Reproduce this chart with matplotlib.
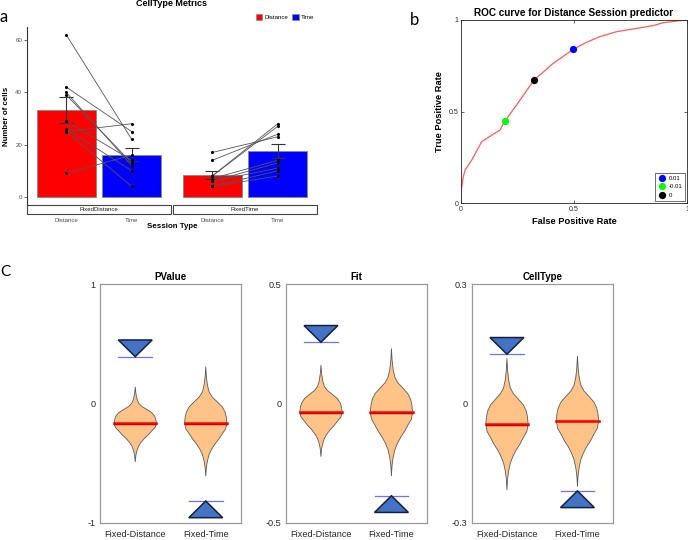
import numpy as np
import matplotlib
matplotlib.use("Agg")
import matplotlib.pyplot as plt
from matplotlib.patches import Rectangle, Polygon, Patch

REG = ['Liberation Sans', 'DejaVu Sans']
plt.rcParams['font.family'] = REG

# ---------------- data: panel a (cell counts) ----------------
cell_types = ['Distance', 'Time']
sessions = ['FixedDistance', 'FixedTime']
fd_mean = [33.1, 16.2]
fd_sem = [5.0, 2.65]
ft_mean = [8.4, 17.6]
ft_sem = [1.5, 2.7]
fd_dist = [62, 42, 40, 39, 29, 26, 25, 25, 9]
fd_time = [22, 25, 12, 13, 14, 10, 28, 4, 16]
ft_dist = [17, 14, 8, 8, 7, 6, 6, 4, 4]
ft_time = [23, 24, 28, 27, 14, 13, 11, 8, 10]

# ---------------- data: panel b (ROC) ----------------
fpr = [0, 0, 0.010, 0.018, 0.047, 0.091, 0.135, 0.172, 0.194, 0.261, 0.323,
       0.408, 0.496, 0.555, 0.614, 0.688, 0.761, 0.850, 0.894, 0.968, 1]
tpr = [0, 0.060, 0.142, 0.179, 0.234, 0.334, 0.370, 0.398, 0.447, 0.562, 0.672,
       0.763, 0.839, 0.878, 0.909, 0.936, 0.951, 0.969, 0.985, 0.996, 1]
thr_labels = ['0.01', '-0.01', '0']
thr_fpr = [0.496, 0.194, 0.323]
thr_tpr = [0.839, 0.447, 0.672]
thr_colors = ['#0000FF', '#00FF00', '#000000']

# ---------------- data: panel c (shuffle distributions) ----------------
groups = ['Fixed-Distance', 'Fixed-Time']
metric_titles = ['PValue', 'Fit', 'CellType']
metric_lims = [1, 0.5, 0.3]
pv_median = [-0.165, -0.165]
pv_top = [0.14, 0.31]
pv_bottom = [-0.49, -0.61]
pv_obs = [0.393, -0.818]
fit_median = [-0.037, -0.037]
fit_top = [0.161, 0.231]
fit_bottom = [-0.223, -0.304]
fit_obs = [0.257, -0.387]
ct_median = [-0.052, -0.044]
ct_top = [0.114, 0.12]
ct_bottom = [-0.218, -0.209]
ct_obs = [0.124, -0.220]
# violin outline: position (-1 top tip, 0 median, 1 bottom tip) and relative width
prof_pos = [-1, -0.82, -0.67, -0.55, -0.46, -0.375, -0.29, -0.2, -0.11, 0,
            0.11, 0.2, 0.3, 0.39, 0.49, 0.59, 0.71, 0.83, 1]
prof_w = [0, 0.03, 0.08, 0.16, 0.31, 0.55, 0.78, 0.91, 0.97, 1,
          0.94, 0.78, 0.62, 0.44, 0.28, 0.16, 0.08, 0.03, 0]

W, H = 688, 540
fig = plt.figure(figsize=(W / 100, H / 100), dpi=100)


def px_axes(l, t, r, b):
    return fig.add_axes([l / W, 1 - b / H, (r - l) / W, (b - t) / H])


# ================= panel a =================
grey_txt = '#4d4d4d'
facet_axes = [px_axes(27, 27, 171, 205), px_axes(173, 27, 317, 205)]
data_a = [(fd_mean, fd_sem, fd_dist, fd_time), (ft_mean, ft_sem, ft_dist, ft_time)]
for i, ax in enumerate(facet_axes):
    means, sems, d, t = data_a[i]
    ax.bar([1, 2], means, width=0.9, color=['#FF0000', '#0000FF'],
           edgecolor='#8a8a8a', linewidth=0.7, zorder=2)
    ax.errorbar([1, 2], means, yerr=sems, fmt='none', ecolor='#333333',
                elinewidth=0.8, capsize=5, capthick=0.8, zorder=3)
    for a, b in zip(d, t):
        ax.plot([1, 2], [a, b], color='#555555', lw=0.6, zorder=4)
    ax.scatter([1] * len(d) + [2] * len(t), d + t, s=1.5, color='black', zorder=5)
    ax.set_xlim(0.4, 2.6)
    ax.set_ylim(-3.1, 65)
    ax.set_xticks([1, 2])
    ax.set_xticklabels(cell_types, fontsize=4.4, color=grey_txt)
    ax.tick_params(axis='x', length=0, pad=9)
    for s in ['top', 'right', 'bottom']:
        ax.spines[s].set_visible(False)
    ax.add_patch(Rectangle((0, -9 / 178), 1, 9 / 178, transform=ax.transAxes,
                           facecolor='white', edgecolor='#444444', lw=0.8, clip_on=False))
    ax.text(0.5, -4.5 / 178, sessions[i], transform=ax.transAxes, ha='center', va='center',
            fontsize=4.4, color='#1a1a1a')
    if i == 0:
        ax.set_yticks([0, 20, 40, 60])
        ax.tick_params(axis='y', labelsize=4.4, labelcolor=grey_txt, length=2, width=0.5,
                       color='#333333', pad=1.5)
        ax.spines['left'].set_color('#333333')
        ax.spines['left'].set_linewidth(0.8)
        ax.set_ylabel('Number of cells', fontsize=5.7, fontweight='bold', labelpad=4)
    else:
        ax.set_yticks([])
        ax.spines['left'].set_visible(False)

fig.text(172 / W, 1 - 4 / H, 'CellType Metrics', ha='center', va='center',
         fontsize=6.5, fontweight='bold')
fig.text(172 / W, 1 - 227 / H, 'Session Type', ha='center', va='center',
         fontsize=5.7, fontweight='bold')
fig.legend(handles=[Patch(facecolor='#FF0000', edgecolor='#8a8a8a', lw=0.5, label='Distance'),
                    Patch(facecolor='#0000FF', edgecolor='#8a8a8a', lw=0.5, label='Time')],
           loc='center', bbox_to_anchor=(285 / W, 1 - 17 / H), ncol=2, frameon=False,
           fontsize=4.4, handlelength=1.1, handleheight=1.1, handletextpad=0.3, columnspacing=0.7)
fig.text(0 / W, 1 - 17 / H, 'a', ha='left', va='center', fontsize=12, family='Lato')

# ================= panel b =================
axb = px_axes(461, 20, 687, 203)
axb.plot(fpr, tpr, color='#FF5c5c', lw=0.9)
for lab, x, y, c in zip(thr_labels, thr_fpr, thr_tpr, thr_colors):
    axb.plot(x, y, 'o', color=c, markersize=4.2, label=lab, linestyle='none')
axb.set_xlim(0, 1)
axb.set_ylim(0, 1)
axb.set_xticks([0, 0.5, 1])
axb.set_yticks([0, 0.5, 1])
axb.set_xticklabels(['0', '0.5', '1'])
axb.set_yticklabels(['0', '0.5', '1'])
axb.tick_params(direction='in', length=2.5, width=0.5, labelsize=5, pad=2,
                top=True, right=True, colors='#262626')
for s in axb.spines.values():
    s.set_linewidth(0.6)
    s.set_color('#262626')
axb.set_title('ROC curve for Distance Session predictor', fontsize=7.2, fontweight='bold', pad=3)
axb.set_xlabel('False Positive Rate', fontsize=6.7, fontweight='bold', labelpad=3)
axb.set_ylabel('True Positive Rate', fontsize=6.7, fontweight='bold', labelpad=3)
leg = axb.legend(loc='lower right', frameon=True, fancybox=False,
                 borderpad=0.5, labelspacing=0.6, handletextpad=0.5, handlelength=1.2,
                 borderaxespad=0.3, prop={'size': 4.3})
leg.get_frame().set_edgecolor('black')
leg.get_frame().set_linewidth(0.5)
fig.text(410 / W, 1 - 20 / H, 'b', ha='left', va='center', fontsize=12, family='Lato')

# ================= panel c =================
fig.text(0 / W, 1 - 272 / H, 'C', ha='left', va='center', fontsize=11, family='Lato')
metric_data = [(pv_median, pv_top, pv_bottom, pv_obs),
               (fit_median, fit_top, fit_bottom, fit_obs),
               (ct_median, ct_top, ct_bottom, ct_obs)]
lefts = [100, 285.7, 471.7]
for k in range(3):
    ax = px_axes(lefts[k], 284.3, lefts[k] + 141, 522.7)
    lim = metric_lims[k]
    med, top, bot, obs = metric_data[k]
    tri_h = 0.07 * 2 * lim
    for j in range(2):
        xc = j + 1
        ys, ws = [], []
        for p, w in zip(prof_pos, prof_w):
            if p < 0:
                ys.append(med[j] - p * (top[j] - med[j]))
            else:
                ys.append(med[j] - p * (med[j] - bot[j]))
            ws.append(w * 0.30)
        ys = np.array(ys)
        ws = np.array(ws)
        verts = np.column_stack([np.r_[xc - ws, (xc + ws)[::-1]], np.r_[ys, ys[::-1]]])
        ax.add_patch(Polygon(verts, closed=True, facecolor='#FFC287', edgecolor='#5a5a5a',
                             lw=0.6, zorder=2))
        ax.plot([xc - 0.30, xc + 0.30], [med[j] - 0.004 * lim, med[j] - 0.004 * lim],
                color='#3a0000', lw=1.0, zorder=3)
        ax.plot([xc - 0.30, xc + 0.30], [med[j], med[j]], color='#FF0000', lw=1.8, zorder=4)
        # observed value: blue line and triangle
        ax.plot([xc - 0.24, xc + 0.24], [obs[j], obs[j]], color='#7070FF', lw=0.9, zorder=3)
        sgn = 1 if obs[j] > 0 else -1
        tri = [(xc - 0.24, obs[j] + sgn * tri_h), (xc + 0.24, obs[j] + sgn * tri_h),
               (xc, obs[j])]
        ax.add_patch(Polygon(tri, closed=True, facecolor='#4472C4', edgecolor='#14213d',
                             lw=1.1, zorder=5))
    ax.set_xlim(0.5, 2.5)
    ax.set_ylim(-lim, lim)
    ax.set_xticks([1, 2])
    ax.set_xticklabels(groups)
    ax.set_yticks([-lim, 0, lim])
    ax.set_yticklabels(['%g' % (-lim), '0', '%g' % lim])
    ax.tick_params(length=0, labelsize=6.6, colors='#262626', pad=3)
    ax.tick_params(axis='x', pad=5)
    for s in ax.spines.values():
        s.set_color('#9a9a9a')
        s.set_linewidth(0.9)
    ax.set_title(metric_titles[k], fontsize=7, fontweight='bold', pad=3)

fig.savefig('out.png', dpi=100)
